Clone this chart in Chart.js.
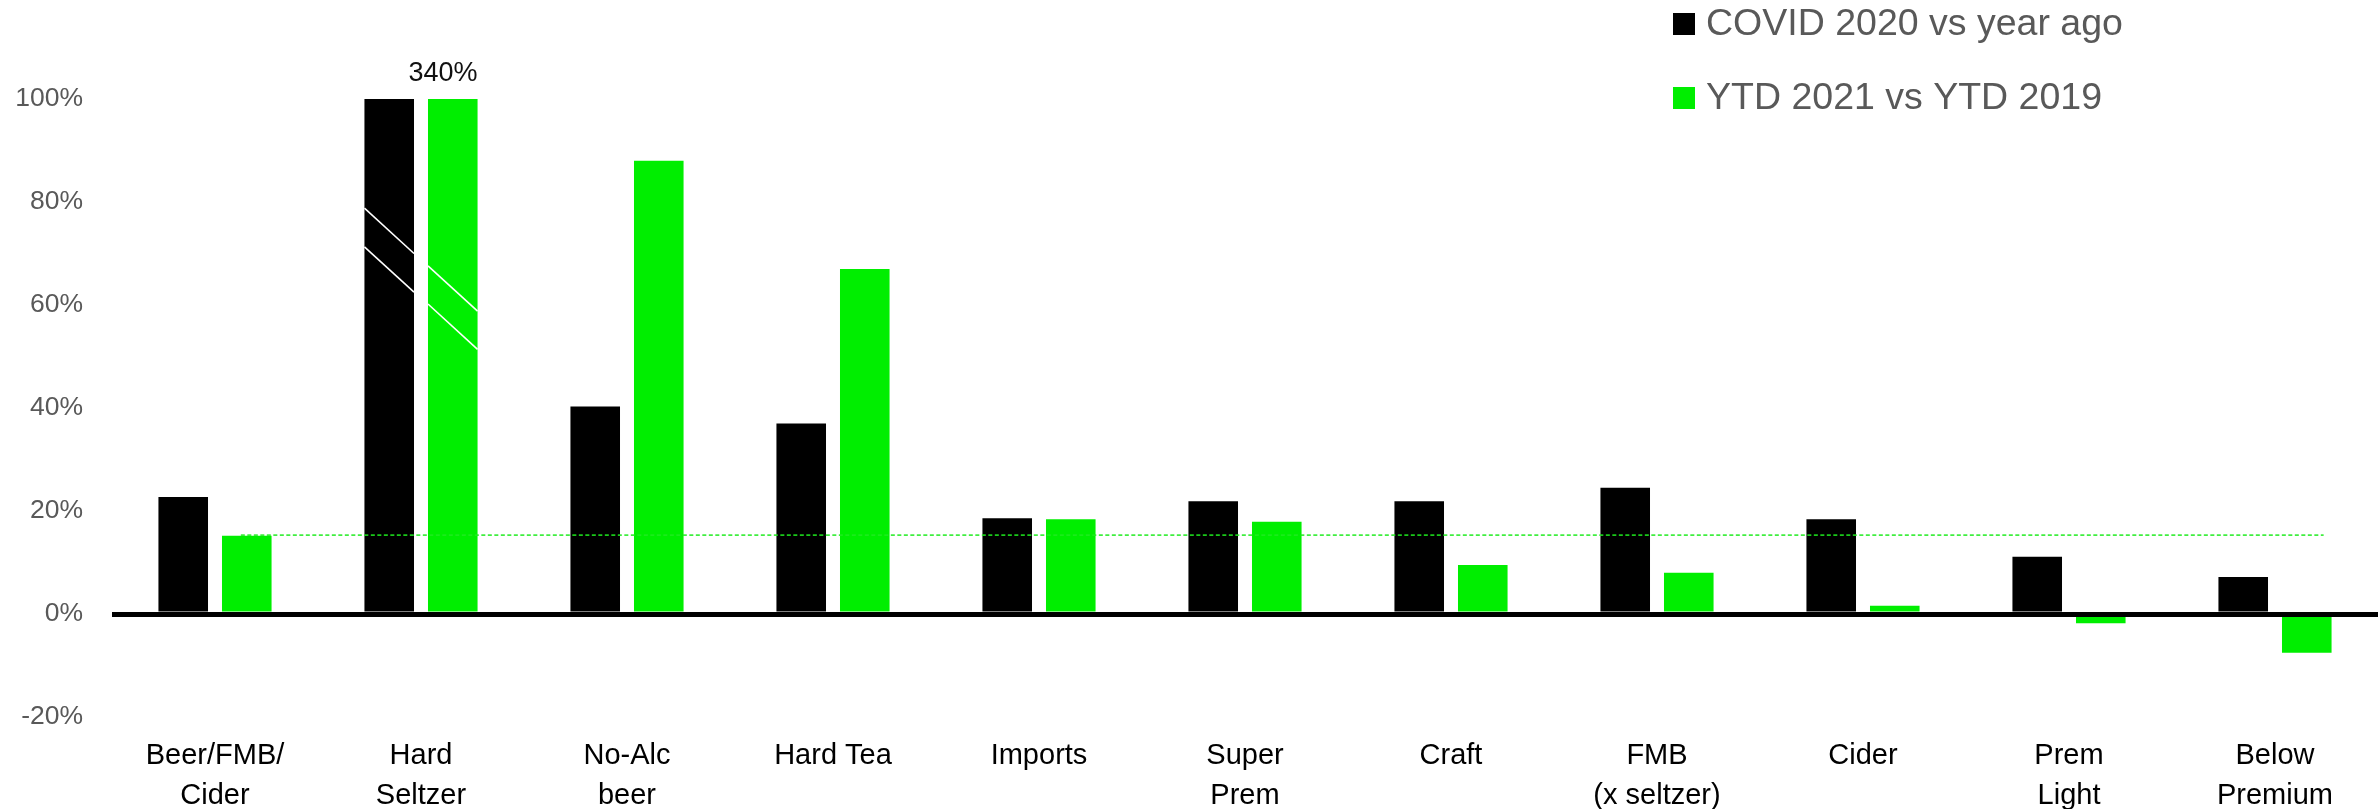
<!DOCTYPE html>
<html>
<head>
<meta charset="utf-8">
<script src="https://cdn.jsdelivr.net/npm/chart.js@4/dist/chart.umd.min.js"></script>
<style>
  html, body { margin: 0; padding: 0; background: #ffffff; }
  #wrap { width: 2380px; height: 809px; }
</style>
</head>
<body>
<div id="wrap"><canvas id="c" width="2380" height="809"></canvas></div>
<script>
// ---- data ----
const categories = [
  ["Beer/FMB/", "Cider"], ["Hard", "Seltzer"], ["No-Alc", "beer"], "Hard Tea", "Imports",
  ["Super", "Prem"], "Craft", ["FMB", "(x seltzer)"], "Cider", ["Prem", "Light"], ["Below", "Premium"]
];
const seriesNames = ["COVID 2020 vs year ago", "YTD 2021 vs YTD 2019"];
const covid2020 = [22.7, 100, 40.3, 37.0, 18.6, 21.9, 21.9, 24.5, 18.4, 11.1, 7.2];
const ytd2021 = [15.2, 100, 88.0, 67.0, 18.4, 17.9, 9.5, 8.0, 1.6, -1.8, -7.5];
const yTicks = [-20, 0, 20, 40, 60, 80, 100];
const benchmark = 15.3;            // total Beer/FMB/Cider YTD reference line
const overflowLabel = "340%";      // Hard Seltzer YTD actual value (bar truncated)
const overflowIndex = 1;

const FONT = "'Liberation Sans', Arial, Helvetica, sans-serif";
const BLACK = "#000000";
const GREEN = "#00ee00";

// ---- plugins ----
const decorations = {
  id: 'decorations',
  afterDatasetsDraw(chart) {
    const ctx = chart.ctx;
    const y = chart.scales.y;
    const m0 = chart.getDatasetMeta(0);
    const m1 = chart.getDatasetMeta(1);

    // break marks on truncated bars
    const breaks = [[78.8, 71.3], [67.6, 60.2]];
    const drop = 8.8;
    [m0, m1].forEach((meta, di) => {
      const bar = meta.data[overflowIndex];
      const left = bar.x - bar.width / 2, right = bar.x + bar.width / 2;
      ctx.save();
      ctx.strokeStyle = '#ffffff';
      ctx.lineWidth = 1.6;
      breaks[di].forEach(v => {
        ctx.beginPath();
        ctx.moveTo(left, y.getPixelForValue(v));
        ctx.lineTo(right, y.getPixelForValue(v - drop));
        ctx.stroke();
      });
      ctx.restore();
    });

    // benchmark dashed line
    const b0 = m1.data[0], bN = m1.data[m1.data.length - 1];
    const yy = y.getPixelForValue(benchmark);
    ctx.save();
    ctx.strokeStyle = 'rgba(30,235,30,0.85)';
    ctx.lineWidth = 1.8;
    ctx.setLineDash([4, 2.5]);
    ctx.beginPath();
    ctx.moveTo(b0.x - b0.width * 0.12, yy);
    ctx.lineTo(bN.x + bN.width * 0.34, yy);
    ctx.stroke();
    ctx.restore();

    // overflow label
    const gb = m1.data[overflowIndex];
    ctx.save();
    ctx.fillStyle = '#111111';
    ctx.font = "27px " + FONT;
    ctx.textAlign = 'right';
    ctx.textBaseline = 'middle';
    ctx.fillText(overflowLabel, gb.x + gb.width / 2, y.getPixelForValue(100) - 25);
    ctx.restore();
  },
  afterDraw(chart) {
    // legend (vertical, top-right)
    const ctx = chart.ctx;
    const x0 = 1673, rows = [24, 98];
    ctx.save();
    chart.data.datasets.forEach((ds, i) => {
      ctx.fillStyle = ds.backgroundColor;
      ctx.fillRect(x0, rows[i] - 11, 22, 22);
      ctx.fillStyle = '#595959';
      ctx.font = "37.5px " + FONT;
      ctx.textAlign = 'left';
      ctx.textBaseline = 'middle';
      ctx.fillText(ds.label, x0 + 33, rows[i] + 1);
    });
    ctx.restore();
  }
};

new Chart(document.getElementById('c'), {
  type: 'bar',
  data: {
    labels: categories,
    datasets: [
      { label: seriesNames[0], data: covid2020, backgroundColor: BLACK,
        categoryPercentage: 0.617, barPercentage: 0.78 },
      { label: seriesNames[1], data: ytd2021, backgroundColor: GREEN,
        categoryPercentage: 0.617, barPercentage: 0.78 }
    ]
  },
  options: {
    responsive: false,
    animation: false,
    layout: { padding: { top: 99, right: 2, left: 0, bottom: 0 } },
    plugins: {
      legend: { display: false },
      tooltip: { enabled: false }
    },
    scales: {
      x: {
        grid: { display: false, drawTicks: false },
        border: { display: false },
        ticks: {
          color: '#000000',
          font: { family: FONT, size: 29, lineHeight: 1.38 },
          padding: 19,
          maxRotation: 0,
          autoSkip: false
        },
        afterFit(scale) { scale.height = 92; }
      },
      y: {
        min: -20, max: 100,
        afterBuildTicks(scale) { scale.ticks = yTicks.map(v => ({ value: v })); },
        grid: {
          z: 1,
          drawTicks: false,
          color: ctx => (ctx.tick && ctx.tick.value === 0) ? '#000000' : 'rgba(0,0,0,0)',
          lineWidth: ctx => (ctx.tick && ctx.tick.value === 0) ? 5 : 0
        },
        border: { display: false },
        ticks: {
          color: '#595959',
          font: { family: FONT, size: 26.5 },
          padding: 29,
          callback: v => v + '%'
        },
        afterFit(scale) { scale.width = 112; }
      }
    }
  },
  plugins: [decorations]
});
</script>
</body>
</html>
